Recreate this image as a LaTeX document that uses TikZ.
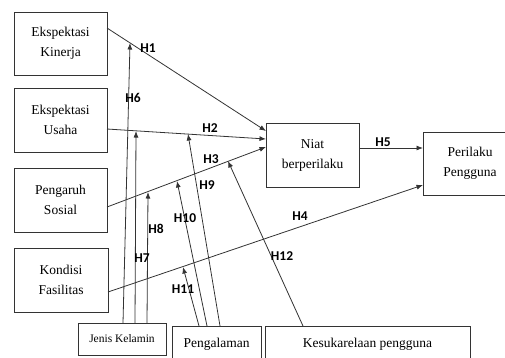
\documentclass[tikz,border=0pt]{standalone}
\usepackage{fontspec}
\setmainfont{Liberation Serif}
\newfontfamily\labfont{Carlito}
\usetikzlibrary{arrows.meta}
\begin{document}
\begin{tikzpicture}[x=1pt,y=-1pt,
  box/.style={draw=black!80, line width=0.9pt, align=center, inner sep=0pt, outer sep=0pt, anchor=north west,
    font=\fontsize{13.5}{20}\selectfont},
  arr/.style={draw=black!80, line width=0.8pt, -{Latex[length=6.5pt,width=5pt]}},
  hl/.style={font=\labfont\bfseries\fontsize{13.5}{13.5}\selectfont, inner sep=0pt}]
\useasboundingbox (0,0) rectangle (505,357);
% boxes
\node[box, minimum width=93pt, minimum height=63pt] (ek) at (14,12) {Ekspektasi\\Kinerja};
\node[box, minimum width=93pt, minimum height=64pt] (eu) at (14,88) {Ekspektasi\\Usaha};
\node[box, minimum width=93pt, minimum height=64pt] (ps) at (14,168) {Pengaruh\\Sosial};
\node[box, minimum width=94pt, minimum height=64pt] (kf) at (14,248) {Kondisi\\Fasilitas};
\node[box, minimum width=93pt, minimum height=64pt] (niat) at (266,123) {Niat\\berperilaku};
\node[box, minimum width=94pt, minimum height=63pt] (per) at (423,132) {Perilaku\\Pengguna};
\node[box, minimum width=88pt, minimum height=32pt, font=\fontsize{11.5}{14}\selectfont] (jk) at (78,323) {Jenis Kelamin};
\node[box, minimum width=89pt, minimum height=36pt] (pg) at (172,326) {Pengalaman};
\node[box, minimum width=205pt, minimum height=36pt] (ks) at (265,326) {Kesukarelaan pengguna};
% connector end points
\coordinate (a1) at (107,28);  \coordinate (b1) at (266,131);
\coordinate (a2) at (107,129); \coordinate (b2) at (266,139);
\coordinate (a3) at (107,207); \coordinate (b3) at (266,147);
\coordinate (a4) at (108,292); \coordinate (b4) at (423,185);
\coordinate (a5) at (359,148); \coordinate (b5) at (423,148);
\coordinate (s6) at (123,323); \coordinate (e6) at (130,43);
\coordinate (s7) at (135,323); \coordinate (e7) at (136,131);
\coordinate (s8) at (147,323); \coordinate (e8) at (148,192);
\coordinate (s9) at (220,326); \coordinate (e9) at (188,134);
\coordinate (s10) at (207,326); \coordinate (e10) at (177,181);
\coordinate (s11) at (199,326); \coordinate (e11) at (183,267);
\coordinate (s12) at (303,326); \coordinate (e12) at (228,161);
% main arrows
\draw[arr] (a1) -- (b1);
\draw[arr] (a2) -- (b2);
\draw[arr] (a3) -- (b3);
\draw[arr] (a4) -- (b4);
\draw[arr] (a5) -- (b5);
% moderator arrows
\draw[arr] (s6) -- (e6);
\draw[arr] (s7) -- (e7);
\draw[arr] (s8) -- (e8);
\draw[arr] (s9) -- (e9);
\draw[arr] (s10) -- (e10);
\draw[arr] (s11) -- (e11);
\draw[arr] (s12) -- (e12);
% labels
\node[hl] (l1) at (148,48) {H1};
\node[hl] (l2) at (210,128) {H2};
\node[hl] (l3) at (211,159) {H3};
\node[hl] (l4) at (300,216) {H4};
\node[hl] (l5) at (383,142) {H5};
\node[hl] (l6) at (133,98) {H6};
\node[hl] (l7) at (142,258) {H7};
\node[hl] (l8) at (156,229) {H8};
\node[hl] (l9) at (207,185) {H9};
\node[hl] (l10) at (185,218) {H10};
\node[hl] (l11) at (183,289) {H11};
\node[hl] (l12) at (282,256) {H12};
\end{tikzpicture}
\end{document}
